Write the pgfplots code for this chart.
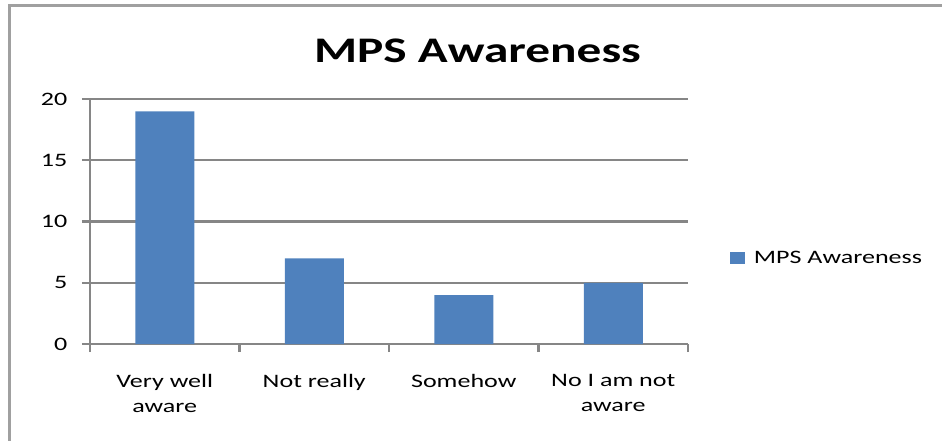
\documentclass[border=0pt]{standalone}
\usepackage{fontspec}
\setmainfont{Carlito}[FakeStretch=1.37]
\usepackage{pgfplots}
\pgfplotsset{compat=1.18}
\definecolor{barblue}{HTML}{4F81BD}
\definecolor{gridgray}{HTML}{868686}
\definecolor{framegray}{HTML}{A0A0A0}
\newcommand{\lblfont}{\fontsize{14.25pt}{18.75pt}\selectfont}

\begin{document}
\begin{tikzpicture}
\useasboundingbox (0,0) rectangle (706.5pt,-330pt);
% chart area frame (top and left edges)
\draw[framegray, line width=2.25pt] (6.75pt,-340pt) -- (6.75pt,-3.75pt) -- (720pt,-3.75pt);
\begin{axis}[
  at={(67.5pt,-258pt)}, anchor=south west,
  scale only axis, width=448.5pt, height=183.75pt,
  xmin=-0.5, xmax=3.5, ymin=0, ymax=20,
  axis x line*=bottom, axis y line*=left,
  axis line style={gridgray, line width=1.7pt, -},
  tick align=outside,
  tick style={gridgray, line width=1.7pt},
  major tick length=6pt, minor tick length=6pt,
  xtick={0,1,2,3},
  xticklabels={{Very well\\aware},{Not really},{Somehow},{No I am not\\aware}},
  major x tick style={draw=none},
  minor xtick={-0.5,0.5,1.5,2.5,3.5},
  ytick={0,5,10,15,20},
  ymajorgrids=true,
  grid style={gridgray, line width=1.7pt},
  /pgf/number format/assume math mode=true,
  yticklabel style={font=\lblfont, xshift=-7.5pt},
  xticklabel style={font=\lblfont, align=center, yshift=-13.5pt},
  title={MPS Awareness},
  title style={font=\fontsize{27pt}{32pt}\selectfont\bfseries, at={(axis description cs:0.648,1.118)}, anchor=base},
  legend style={at={(axis description cs:1.0702,0.351)}, anchor=west, draw=none, fill=none, font=\lblfont, inner sep=0pt,
    /tikz/every odd column/.append style={column sep=4.5pt}},
  legend cell align=left,
  legend image code/.code={\fill[barblue] (0pt,-4.5pt) rectangle (11.25pt,4.5pt);},
]
\addplot[ybar, fill=barblue, draw=none, bar width=44.25pt] coordinates {(0,19) (1,7) (2,4) (3,5)};
\addlegendentry{MPS Awareness}
\end{axis}
\end{tikzpicture}
\end{document}
